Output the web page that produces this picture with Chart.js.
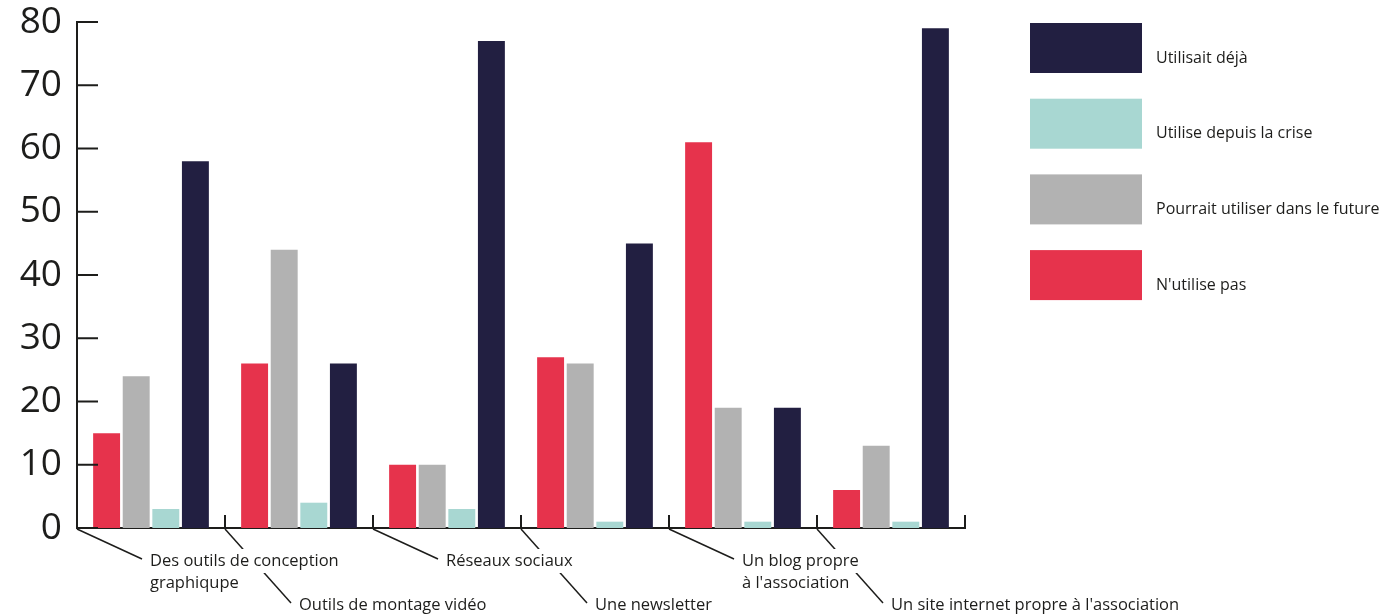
<!DOCTYPE html>
<html>
<head>
<meta charset="utf-8">
<script src="https://cdn.jsdelivr.net/npm/chart.js@4/dist/chart.umd.min.js"></script>
<style>
  body { margin: 0; background: #fff; }
  #wrap { width: 1383px; height: 616px; position: relative; }
</style>
</head>
<body>
<div id="wrap"><canvas id="chart"></canvas></div>
<script>
// données
const categories = [
    ["Des outils de conception", "graphiqupe"],
    ["Outils de montage vidéo"],
    ["Réseaux sociaux"],
    ["Une newsletter"],
    ["Un blog propre", "à l'association"],
    ["Un site internet propre à l'association"]
];
const nUtilisePas = [15, 26, 10, 27, 61, 6];
const pourraitUtiliser = [24, 44, 10, 26, 19, 13];
const depuisCrise = [3, 4, 3, 1, 1, 1];
const utilisaitDeja = [58, 26, 77, 45, 19, 79];
const yTicks = [0, 10, 20, 30, 40, 50, 60, 70, 80];

const FONT = "'Open Sans', 'Noto Sans', sans-serif";
const INK = '#1d1d1b';

// marques d'axes, étiquettes avec traits obliques et légende
const decor = {
    id: 'decor',
    afterDraw(chart) {
        const ctx = chart.ctx;
        const area = chart.chartArea;
        const xs = chart.scales.x;
        const ys = chart.scales.y;
        const step = (area.right - area.left) / categories.length;

        ctx.save();
        ctx.strokeStyle = INK;
        ctx.lineWidth = 2;

        // petits traits de l'axe Y, vers l'intérieur
        yTicks.forEach(v => {
            const y = ys.getPixelForValue(v);
            ctx.beginPath();
            ctx.moveTo(area.left, y);
            ctx.lineTo(area.left + 21, y);
            ctx.stroke();
        });

        // séparateurs de catégories, vers le haut
        for (let i = 1; i <= categories.length; i++) {
            const x = xs.getPixelForValue(i - 1) + step / 2;
            ctx.beginPath();
            ctx.moveTo(x, area.bottom + 1);
            ctx.lineTo(x, area.bottom - 13);
            ctx.stroke();
        }

        // traits obliques vers les étiquettes
        ctx.lineWidth = 1.5;
        categories.forEach((lab, i) => {
            const bx = xs.getPixelForValue(i) - step / 2;
            const low = i % 2 === 1;
            ctx.beginPath();
            ctx.moveTo(bx, area.bottom + 1);
            if (low) ctx.lineTo(bx + 66, area.bottom + 75);
            else ctx.lineTo(bx + 65, area.bottom + 31);
            ctx.stroke();
        });

        // étiquettes (fond blanc pour couper les traits qui passent derrière)
        ctx.font = '16.5px ' + FONT;
        ctx.textBaseline = 'middle';
        ctx.textAlign = 'left';
        categories.forEach((lab, i) => {
            const bx = xs.getPixelForValue(i) - step / 2;
            const low = i % 2 === 1;
            const tx = low ? bx + 74 : bx + 73;
            let ty = low ? area.bottom + 77 : area.bottom + 33;
            lab.forEach(line => {
                const w = ctx.measureText(line).width;
                ctx.fillStyle = '#fff';
                ctx.fillRect(tx - 3, ty - 12, w + 6, 24);
                ctx.fillStyle = INK;
                ctx.fillText(line, tx, ty);
                ty += 22;
            });
        });

        // légende
        ctx.font = '16px ' + FONT;
        const lx = area.right + 65;
        const sets = chart.data.datasets.slice().reverse();
        sets.forEach((ds, i) => {
            const top = 23 + i * 75.7;
            ctx.fillStyle = ds.backgroundColor;
            ctx.fillRect(lx, top, 112, 50);
            ctx.fillStyle = INK;
            ctx.fillText(ds.label, lx + 126, top + 35);
        });
        ctx.restore();
    }
};

const ctx = document.getElementById('chart').getContext('2d');
const chart = new Chart(ctx, {
    type: 'bar',
    data: {
        labels: categories,
        datasets: [
            { label: "N'utilise pas", data: nUtilisePas, backgroundColor: '#e6334c' },
            { label: 'Pourrait utiliser dans le future', data: pourraitUtiliser, backgroundColor: '#b2b2b2' },
            { label: 'Utilise depuis la crise', data: depuisCrise, backgroundColor: '#a8d7d2' },
            { label: 'Utilisait déjà', data: utilisaitDeja, backgroundColor: '#221f41' }
        ]
    },
    options: {
        responsive: true,
        maintainAspectRatio: false,
        animation: false,
        layout: { padding: { top: 22, right: 418, left: 0, bottom: 0 } },
        datasets: {
            bar: { categoryPercentage: 0.8, barPercentage: 0.91 }
        },
        plugins: {
            legend: { display: false },
            tooltip: { enabled: false }
        },
        scales: {
            x: {
                z: 1,
                grid: { display: false },
                border: { display: true, color: INK, width: 2 },
                ticks: { display: false },
                afterFit: scale => { scale.height = 88; }
            },
            y: {
                z: 1,
                min: 0,
                max: 80,
                grid: { display: false, drawTicks: false },
                border: { display: true, color: INK, width: 2 },
                ticks: {
                    stepSize: 10,
                    padding: 15,
                    color: INK,
                    font: { family: FONT, size: 37 }
                },
                afterFit: scale => {
                    scale.width = 77;
                    scale.paddingTop = 0;
                    scale.paddingBottom = 0;
                }
            }
        }
    },
    plugins: [decor]
});
</script>
</body>
</html>
